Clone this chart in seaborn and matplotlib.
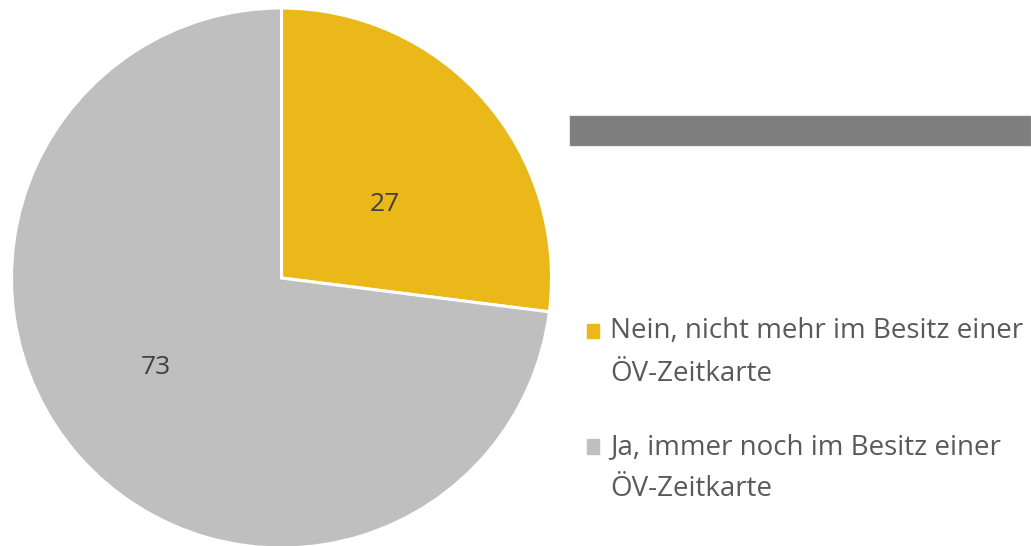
import numpy as np
import matplotlib.pyplot as plt
import matplotlib.patches as mpatches
import seaborn as sns

sns.set_theme(style="white")
plt.rcParams['font.family'] = ['Open Sans', 'DejaVu Sans']

# data
labels = ["Nein, nicht mehr im Besitz einer\nÖV-Zeitkarte",
          "Ja, immer noch im Besitz einer\nÖV-Zeitkarte"]
values = [27, 73]
colors = ["#EAB818", "#BFBFBF"]

W, H = 1031, 546
fig = plt.figure(figsize=(W / 100, H / 100), dpi=100)

# pie axes: centre ~ (281, 278), radius ~ 270 px
r = 270
cx, cy = 281.5, 278
ax = fig.add_axes([(cx - r) / W, (H - cy - r) / H, 2 * r / W, 2 * r / H])
wedges, texts = ax.pie(values, colors=colors, startangle=90, counterclock=False,
                       labels=[str(v) for v in values], labeldistance=0.52,
                       wedgeprops=dict(edgecolor="white", linewidth=2.2),
                       textprops=dict(fontsize=19, color="#404040"))
# nudge value labels like the office chart does (slightly clockwise of the mid angle)
for w, t, d in zip(wedges, texts, [0.47, 0.57]):
    ang = np.deg2rad((w.theta1 + w.theta2) / 2 - 6)
    t.set_position((d * np.cos(ang), d * np.sin(ang)))
    t.set_horizontalalignment("center")
    t.set_verticalalignment("center")
ax.set_xlim(-1, 1)
ax.set_ylim(-1, 1)
ax.set_aspect("equal")

# grey title placeholder bar
fig.patches.append(mpatches.Rectangle((569 / W, 1 - 146 / H), (W - 569) / W, 31 / H,
                                      transform=fig.transFigure, facecolor="#7F7F7F",
                                      edgecolor="#E6E6E6", linewidth=0.8))

handles = [mpatches.Patch(color=c) for c in colors]
leg = fig.legend(handles, labels, loc="upper left", bbox_to_anchor=(562 / W, 1 - 292 / H),
                 frameon=False, fontsize=20, handlelength=0.42, handleheight=0.42,
                 handletextpad=0.42, labelspacing=1.62, labelcolor="#595959")
for t in leg.get_texts():
    t.set_linespacing(1.7)
# put the square markers next to the first text line, as in the original
for h in leg.legend_handles:
    h.set_y(h.get_y() + 15.8)

fig.savefig("out.png", dpi=100)
